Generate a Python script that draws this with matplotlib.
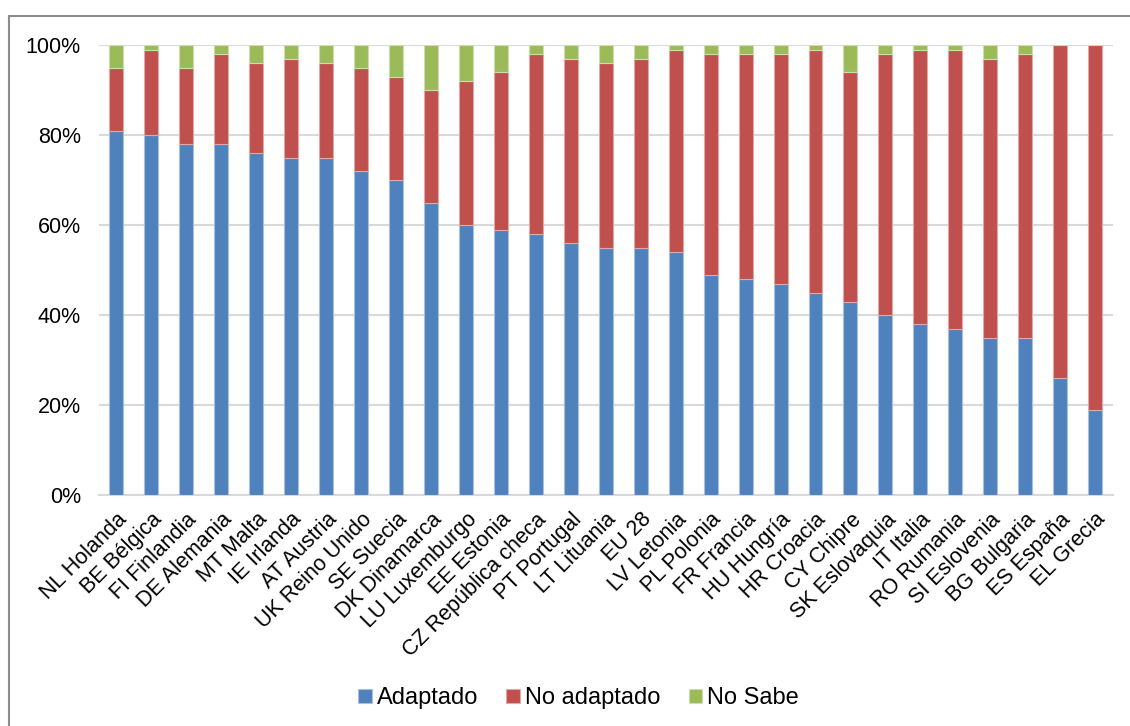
import matplotlib
matplotlib.use("Agg")
import matplotlib.pyplot as plt
from matplotlib.lines import Line2D
import numpy as np

plt.rcParams['font.family'] = ['Liberation Sans', 'DejaVu Sans']

countries = ["NL Holanda", "BE Bélgica", "FI Finlandia", "DE Alemania", "MT Malta",
             "IE Irlanda", "AT Austria", "UK Reino Unido", "SE Suecia", "DK Dinamarca",
             "LU Luxemburgo", "EE Estonia", "CZ República checa", "PT Portugal",
             "LT Lituania", "EU 28", "LV Letonia", "PL Polonia", "FR Francia",
             "HU Hungría", "HR Croacia", "CY Chipre", "SK Eslovaquia", "IT Italia",
             "RO Rumania", "SI Eslovenia", "BG Bulgaria", "ES España", "EL Grecia"]
adaptado = [81, 80, 78, 78, 76, 75, 75, 72, 70, 65, 60, 59, 58, 56, 55, 55, 54,
            49, 48, 47, 45, 43, 40, 38, 37, 35, 35, 26, 19]
no_sabe = [5, 1, 5, 2, 4, 3, 4, 5, 7, 10, 8, 6, 2, 3, 4, 3, 1, 2, 2, 2, 1, 6,
           2, 1, 1, 3, 2, 0, 0]
no_adaptado = [100 - a - n for a, n in zip(adaptado, no_sabe)]

series_names = ["Adaptado", "No adaptado", "No Sabe"]
colors = ["#4F81BD", "#C0504D", "#9BBB59"]
edges = ["#A7C0DE", "#E0A8A6", "#CDDDAC"]
yticks = [0, 20, 40, 60, 80, 100]

fig = plt.figure(figsize=(11.3, 7.26), dpi=100)
ax = fig.add_axes([0.0876, 0.318, 0.897, 0.620])

x = np.arange(len(countries))
bottom = np.zeros(len(countries))
for vals, name, c, e in zip([adaptado, no_adaptado, no_sabe], series_names, colors, edges):
    ax.bar(x, vals, width=0.4, bottom=bottom, color=c, edgecolor=e, linewidth=0.8,
           label=name, zorder=3)
    bottom += np.array(vals)

ax.set_xlim(-0.5, len(countries) - 0.5)
ax.set_ylim(0, 100)
ax.set_yticks(yticks)
ax.set_yticklabels([f"{v}%" for v in yticks], fontsize=15.5)
ax.set_xticks(x)
ax.set_xticklabels(countries, rotation=45, ha='right', rotation_mode='anchor', fontsize=15.5)
ax.tick_params(axis='both', length=0)
ax.tick_params(axis='y', pad=13)
ax.tick_params(axis='x', pad=10)
ax.yaxis.grid(True, color='#D9D9D9', linewidth=1.5, zorder=0)
for s in ['top', 'right', 'left']:
    ax.spines[s].set_visible(False)
ax.spines['bottom'].set_color('#D9D9D9')
ax.spines['bottom'].set_linewidth(1.5)

leg = fig.legend(loc='center', bbox_to_anchor=(0.512, 0.038), ncol=3, frameon=False,
                 fontsize=17, handlelength=0.56, handleheight=0.56, handletextpad=0.22,
                 columnspacing=1.2)

# outer frame
fig.add_artist(Line2D([8.5 / 1130, 8.5 / 1130], [0, 1 - 15.5 / 726], color='#8C8C8C',
                      linewidth=1.5, transform=fig.transFigure))
fig.add_artist(Line2D([8.5 / 1130, 1], [1 - 15.5 / 726, 1 - 15.5 / 726], color='#8C8C8C',
                      linewidth=1.5, transform=fig.transFigure))

fig.savefig("out.png", dpi=100)
